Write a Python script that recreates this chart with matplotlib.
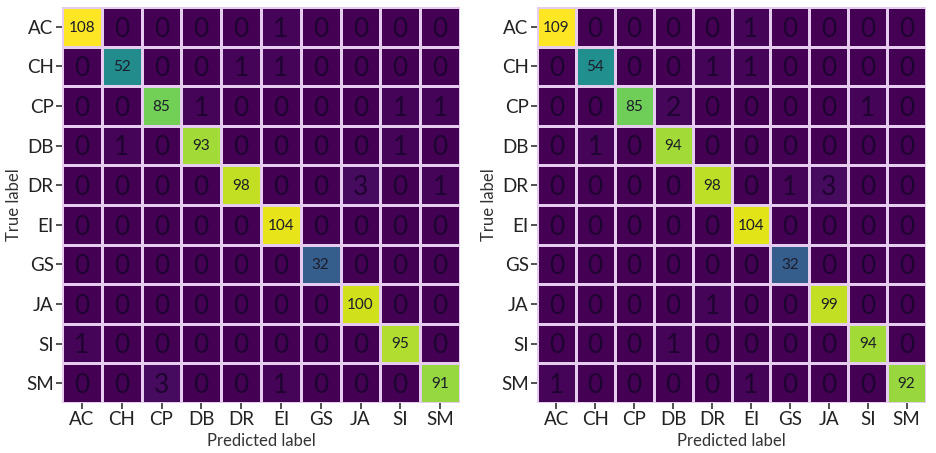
import numpy as np
import matplotlib
matplotlib.use("Agg")
import matplotlib.pyplot as plt

classes = ["AC", "CH", "CP", "DB", "DR", "EI", "GS", "JA", "SI", "SM"]

cm_left = [
    [108, 0, 0, 0, 0, 1, 0, 0, 0, 0],
    [0, 52, 0, 0, 1, 1, 0, 0, 0, 0],
    [0, 0, 85, 1, 0, 0, 0, 0, 1, 1],
    [0, 1, 0, 93, 0, 0, 0, 0, 1, 0],
    [0, 0, 0, 0, 98, 0, 0, 3, 0, 1],
    [0, 0, 0, 0, 0, 104, 0, 0, 0, 0],
    [0, 0, 0, 0, 0, 0, 32, 0, 0, 0],
    [0, 0, 0, 0, 0, 0, 0, 100, 0, 0],
    [1, 0, 0, 0, 0, 0, 0, 0, 95, 0],
    [0, 0, 3, 0, 0, 1, 0, 0, 0, 91],
]

cm_right = [
    [109, 0, 0, 0, 0, 1, 0, 0, 0, 0],
    [0, 54, 0, 0, 1, 1, 0, 0, 0, 0],
    [0, 0, 85, 2, 0, 0, 0, 0, 1, 0],
    [0, 1, 0, 94, 0, 0, 0, 0, 0, 0],
    [0, 0, 0, 0, 98, 0, 1, 3, 0, 0],
    [0, 0, 0, 0, 0, 104, 0, 0, 0, 0],
    [0, 0, 0, 0, 0, 0, 32, 0, 0, 0],
    [0, 0, 0, 0, 1, 0, 0, 99, 0, 0],
    [0, 0, 0, 1, 0, 0, 0, 0, 94, 0],
    [1, 0, 0, 0, 0, 1, 0, 0, 0, 92],
]

plt.rcParams["font.family"] = ["Lato", "DejaVu Sans"]

fig = plt.figure(figsize=(9.36, 4.53), dpi=100)
ax_l = fig.add_axes([62 / 936, 50 / 453, 398 / 936, 396 / 453])
ax_r = fig.add_axes([537 / 936, 50 / 453, 389 / 936, 396 / 453])


def draw_matrix(ax, cm):
    data = np.array(cm)
    n = len(classes)
    ax.pcolormesh(np.arange(n + 1), np.arange(n + 1), data, cmap="viridis",
                  vmin=0, vmax=data.max(), edgecolor="#e6cdf0", linewidth=0.8)
    ax.set_xlim(0, n)
    ax.set_ylim(n, 0)
    for i in range(n):
        for j in range(n):
            v = data[i, j]
            if i == j:
                ax.text(j + 0.5, i + 0.52, str(v), ha="center", va="center",
                        fontsize=11, color="#1c1c2a")
            else:
                ax.text(j + 0.5, i + 0.56, str(v), ha="center", va="center",
                        fontsize=19, color="#1e0430")
    ax.set_xticks(np.arange(n) + 0.5)
    ax.set_yticks(np.arange(n) + 0.5)
    ax.set_xticklabels(classes, fontsize=13.5)
    ax.set_yticklabels(classes, fontsize=13.5)
    ax.tick_params(length=4, width=1.2, color="#333333", pad=2, labelcolor="#222222")
    ax.set_xlabel("Predicted label", fontsize=12, color="#333333", labelpad=3)
    ax.set_ylabel("True label", fontsize=12, color="#333333", labelpad=3)
    for s in ax.spines.values():
        s.set_visible(False)


draw_matrix(ax_l, cm_left)
draw_matrix(ax_r, cm_right)

fig.savefig("out.png", dpi=100, facecolor="white")
